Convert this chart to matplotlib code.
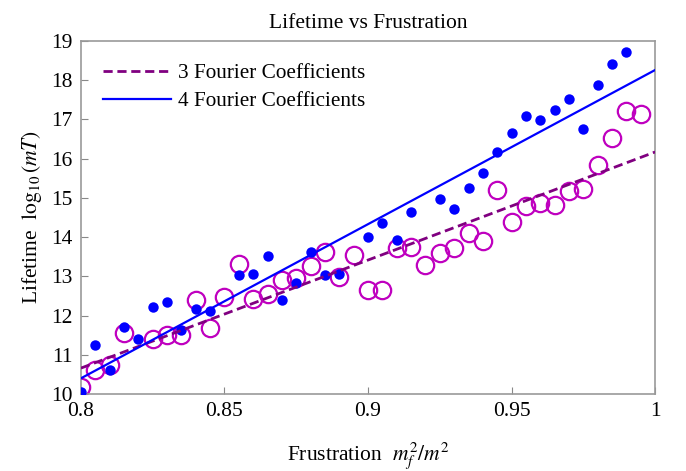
import matplotlib
matplotlib.use('Agg')
import matplotlib.pyplot as plt

# data
x3 = [0.800, 0.805, 0.810, 0.815, 0.825, 0.830, 0.835, 0.840, 0.845, 0.850,
      0.855, 0.860, 0.865, 0.870, 0.875, 0.880, 0.885, 0.890, 0.895, 0.900,
      0.905, 0.910, 0.915, 0.920, 0.925, 0.930, 0.935, 0.940, 0.945, 0.950,
      0.955, 0.960, 0.965, 0.970, 0.975, 0.980, 0.985, 0.990, 0.995]
y3 = [10.18, 10.61, 10.74, 11.56, 11.41, 11.50, 11.50, 12.39, 11.68, 12.47,
      13.31, 12.42, 12.55, 12.91, 12.96, 13.26, 13.62, 12.98, 13.54, 12.65,
      12.65, 13.72, 13.75, 13.29, 13.60, 13.72, 14.10, 13.90, 15.20, 14.39,
      14.79, 14.87, 14.82, 15.18, 15.23, 15.84, 16.53, 17.22, 17.14]

x4 = [0.800, 0.805, 0.810, 0.815, 0.820, 0.825, 0.830, 0.835, 0.840, 0.845,
      0.855, 0.860, 0.865, 0.870, 0.875, 0.880, 0.885, 0.890, 0.900, 0.905,
      0.910, 0.915, 0.925, 0.930, 0.935, 0.940, 0.945, 0.950, 0.955, 0.960,
      0.965, 0.970, 0.975, 0.980, 0.985, 0.990]
y4 = [10.05, 11.25, 10.62, 11.72, 11.40, 12.22, 12.35, 11.63, 12.17, 12.12,
      13.03, 13.05, 13.52, 12.40, 12.83, 13.62, 13.03, 13.06, 14.00, 14.36,
      13.93, 14.64, 14.97, 14.72, 15.25, 15.63, 16.17, 16.65, 17.09, 16.99,
      17.24, 17.52, 16.76, 17.88, 18.41, 18.72]

# linear fits (end points)
fit_x = [0.8, 1.0]
fit3 = [10.66, 16.17]
fit4 = [10.40, 18.26]

xticks = [0.8, 0.85, 0.9, 0.95, 1.0]
xticklabels = ['0.8', '0.85', '0.9', '0.95', '1']
yticks = list(range(10, 20))

plt.rcParams['font.family'] = 'Liberation Serif'
plt.rcParams['mathtext.fontset'] = 'stix'

fig = plt.figure(figsize=(6.86, 4.71), dpi=100)
ax = fig.add_axes([0.118, 0.1635, 0.837, 0.7495])

ax.plot(x3, y3, 'o', markersize=12.5, markerfacecolor='none',
        markeredgecolor='#BF00BF', markeredgewidth=1.6, zorder=2)
ax.plot(x4, y4, 'o', markersize=7.5, color='#0000FF', markeredgewidth=0, zorder=3)
ax.plot(fit_x, fit3, '--', color='#800080', linewidth=2, dashes=(3.3, 1.7),
        label='3 Fourier Coefficients', zorder=4)
ax.plot(fit_x, fit4, '-', color='#0000FF', linewidth=1.6,
        label='4 Fourier Coefficients', zorder=4)

ax.set_xlim(0.8, 1.0)
ax.set_ylim(10, 19)
ax.set_xticks(xticks)
ax.set_xticklabels(xticklabels)
ax.set_yticks(yticks)
ax.tick_params(direction='in', length=5, color='#888888', labelsize=15.5,
               top=False, right=False, pad=6)
for s in ax.spines.values():
    s.set_color('#999999')
    s.set_linewidth(1.2)

ax.set_title('Lifetime vs Frustration', fontsize=15.5, pad=9)
ax.set_xlabel(r'Frustration  $m_f^2/m^2$', fontsize=15.5, labelpad=14)
ax.set_ylabel(r'Lifetime  $\log_{10}(mT)$', fontsize=15.5, labelpad=5)

ax.legend(loc='upper left', frameon=False, fontsize=15.3, handlelength=3.2,
          handletextpad=0.3, borderaxespad=0.65, labelspacing=0.38)

fig.savefig('out.png', dpi=100)
